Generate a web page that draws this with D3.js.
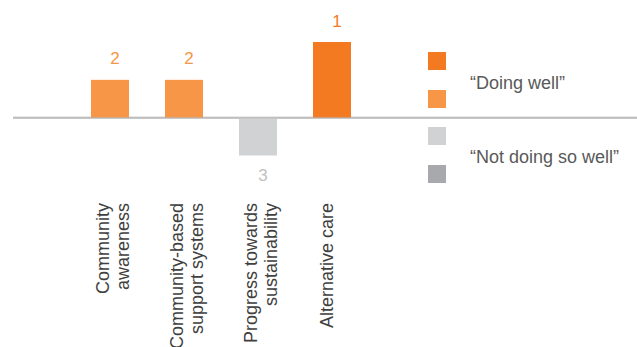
<!DOCTYPE html>
<html>
<head>
<meta charset="utf-8">
<script src="https://cdn.jsdelivr.net/npm/d3@7"></script>
<style>
html,body{margin:0;padding:0;background:#fff;}
svg{display:block;font-family:"Liberation Sans",Arial,sans-serif;}
</style>
</head>
<body>
<svg id="chart" width="637" height="347"></svg>
<script>
const categories = [
  ["Community", "awareness"],
  ["Community-based", "support systems"],
  ["Progress towards", "sustainability"],
  ["Alternative care"]
];
const values = [1, 1, -1, 2];
const rankLabels = ["2", "2", "3", "1"];
const barColors = ["#F79646", "#F79646", "#D1D2D4", "#F37A21"];
const labelColors = ["#F79646", "#F79646", "#BFBFBF", "#F37A21"];
const legendColors = ["#F37A21", "#F79646", "#D1D2D4", "#A7A9AC"];
const legendTexts = ["\u201CDoing well\u201D", "\u201CNot doing so well\u201D"];

const svg = d3.select("#chart");
const keys = categories.map(c => c.join(" "));

const x = d3.scaleBand().domain(keys).range([73, 369])
  .paddingInner(36/74).paddingOuter(18/74);
const y = d3.scaleLinear().domain([-1, 2]).range([155.5, 42]);

// baseline
svg.append("line")
  .attr("x1", 13).attr("x2", 637)
  .attr("y1", y(0)).attr("y2", y(0))
  .attr("stroke", "#C4C4C4").attr("stroke-width", 2);

// bars
svg.selectAll("rect.bar").data(values).enter().append("rect")
  .attr("class", "bar")
  .attr("x", (d, i) => x(keys[i]))
  .attr("width", x.bandwidth())
  .attr("y", d => y(Math.max(0, d)))
  .attr("height", d => Math.abs(y(d) - y(0)))
  .attr("fill", (d, i) => barColors[i]);

// baseline over bars (subtle)
svg.append("line")
  .attr("x1", 13).attr("x2", 637)
  .attr("y1", y(0)).attr("y2", y(0))
  .attr("stroke", "#B0B0B0").attr("stroke-width", 2).attr("stroke-opacity", 0.35);

// value labels
svg.selectAll("text.val").data(values).enter().append("text")
  .attr("class", "val")
  .attr("x", (d, i) => x(keys[i]) + x.bandwidth() / 2 + 5)
  .attr("y", d => d >= 0 ? y(d) - 15.5 : y(d) + 25)
  .attr("text-anchor", "middle")
  .attr("font-size", 17)
  .attr("fill", (d, i) => labelColors[i])
  .text((d, i) => rankLabels[i]);

// category labels (rotated)
categories.forEach((lines, i) => {
  const cx = x(keys[i]) + x.bandwidth() / 2;
  const t = svg.append("text")
    .attr("transform", `translate(${cx},203) rotate(-90)`)
    .attr("text-anchor", "end")
    .attr("font-size", 18)
    .attr("fill", "#404040");
  lines.forEach((ln, j) => {
    const off = lines.length === 1 ? 1 : -1 + j * 19.5;
    t.append("tspan").attr("x", 0).attr("y", off).text(ln);
  });
});

// legend
const legY = [52, 90, 127, 165];
svg.selectAll("rect.leg").data(legendColors).enter().append("rect")
  .attr("class", "leg")
  .attr("x", 428).attr("y", (d, i) => legY[i])
  .attr("width", 18).attr("height", 18)
  .attr("fill", d => d);
const legTextY = [89, 163];
svg.selectAll("text.leg").data(legendTexts).enter().append("text")
  .attr("class", "leg")
  .attr("x", 470).attr("y", (d, i) => legTextY[i])
  .attr("font-size", 18)
  .attr("fill", "#595959")
  .text(d => d);
</script>
</body>
</html>
